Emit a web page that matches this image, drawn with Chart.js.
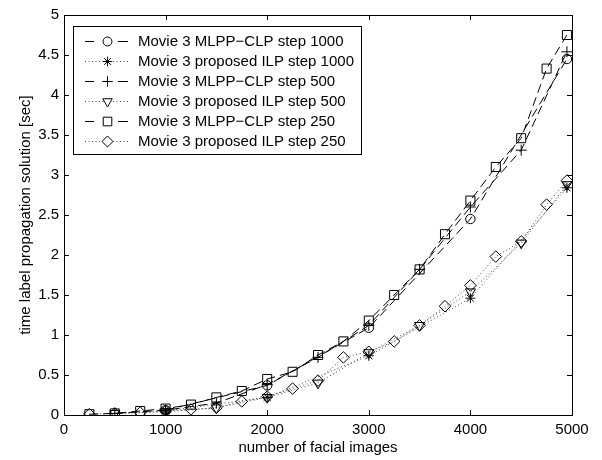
<!DOCTYPE html>
<html>
<head>
<meta charset="utf-8">
<script src="https://cdn.jsdelivr.net/npm/chart.js@4/dist/chart.umd.min.js"></script>
<style>
  body { margin: 0; background: #fff; }
  canvas { display: block; }
</style>
</head>
<body>
<canvas id="chart" width="602" height="460"></canvas>
<script>
// x positions (number of facial images) for each step size
const xStep1000 = [1000, 2000, 3000, 4000, 4950];
const xStep500 = [500, 1000, 1500, 2000, 2500, 3000, 3500, 4000, 4500, 4950];
const xStep250 = [250, 500, 750, 1000, 1250, 1500, 1750, 2000, 2250, 2500,
                  2750, 3000, 3250, 3500, 3750, 4000, 4250, 4500, 4750, 4950];

// time in seconds
const mlppStep1000 = [0.06, 0.37, 1.09, 2.45, 4.45];
const ilpStep1000 = [0.05, 0.22, 0.74, 1.46, 2.84];
const mlppStep500 = [0.02, 0.06, 0.15, 0.38, 0.72, 1.12, 1.82, 2.60, 3.31, 4.54];
const ilpStep500 = [0.02, 0.04, 0.09, 0.22, 0.40, 0.78, 1.12, 1.54, 2.15, 2.88];
const mlppStep250 = [0.01, 0.02, 0.05, 0.08, 0.13, 0.22, 0.30, 0.45, 0.54, 0.75,
                     0.92, 1.18, 1.50, 1.82, 2.26, 2.68, 3.10, 3.46, 4.33, 4.75];
const ilpStep250 = [0.01, 0.02, 0.03, 0.05, 0.07, 0.09, 0.17, 0.23, 0.33, 0.43,
                    0.72, 0.79, 0.92, 1.12, 1.36, 1.62, 1.98, 2.17, 2.63, 2.93];

const seriesLabels = [
    "Movie 3 MLPP\u2212CLP step 1000",
    "Movie 3 proposed ILP step 1000",
    "Movie 3 MLPP\u2212CLP step 500",
    "Movie 3 proposed ILP step 500",
    "Movie 3 MLPP\u2212CLP step 250",
    "Movie 3 proposed ILP step 250"
];

const xLabel = "number of facial images";
const yLabel = "time label propagation solution [sec]";

const FONT = "'Liberation Sans', Arial, Helvetica, sans-serif";
const DASHED = [9, 5];
const DOTTED = [1, 2.5];

function pairs(xs, ys) {
    return xs.map((x, i) => ({ x: x, y: ys[i] }));
}

function series(label, xs, ys, dash, style, radius, rotation) {
    const dotted = dash === DOTTED;
    return {
        label: label,
        data: pairs(xs, ys),
        borderColor: dotted ? "rgba(0,0,0,0.7)" : "#000",
        borderWidth: 1,
        borderDash: dash,
        pointStyle: style,
        pointRadius: radius,
        pointRotation: rotation || 0,
        pointBorderColor: "#000",
        pointBackgroundColor: "rgba(0,0,0,0)",
        pointBorderWidth: 1,
        tension: 0,
        fill: false
    };
}

const datasets = [
    series(seriesLabels[0], xStep1000, mlppStep1000, DASHED, "circle", 4.7),
    series(seriesLabels[1], xStep1000, ilpStep1000, DOTTED, "star", 5),
    series(seriesLabels[2], xStep500, mlppStep500, DASHED, "cross", 5.5),
    series(seriesLabels[3], xStep500, ilpStep500, DOTTED, "triangle", 5.8, 180),
    series(seriesLabels[4], xStep250, mlppStep250, DASHED, "rect", 6.4),
    series(seriesLabels[5], xStep250, ilpStep250, DOTTED, "rectRot", 5.8)
];

// box round the axes plus matlab style inward ticks on all four sides
const framePlugin = {
    id: "frame",
    afterDatasetsDraw(chart) {
        const ctx = chart.ctx;
        const a = chart.chartArea;
        const xs = chart.scales.x;
        const ys = chart.scales.y;
        const len = 5;
        ctx.save();
        ctx.strokeStyle = "#000";
        ctx.lineWidth = 1;
        ctx.setLineDash([]);
        ctx.beginPath();
        xs.ticks.forEach(t => {
            const px = Math.round(xs.getPixelForValue(t.value)) + 0.5;
            ctx.moveTo(px, a.bottom); ctx.lineTo(px, a.bottom - len);
            ctx.moveTo(px, a.top); ctx.lineTo(px, a.top + len);
        });
        ys.ticks.forEach(t => {
            const py = Math.round(ys.getPixelForValue(t.value)) + 0.5;
            ctx.moveTo(a.left, py); ctx.lineTo(a.left + len, py);
            ctx.moveTo(a.right, py); ctx.lineTo(a.right - len, py);
        });
        ctx.stroke();
        ctx.strokeRect(Math.round(a.left) + 0.5, Math.round(a.top) + 0.5,
                       Math.round(a.right - a.left), Math.round(a.bottom - a.top));
        ctx.restore();
    }
};

// legend drawn by hand so each entry gets its line sample with marker
const legendPlugin = {
    id: "boxLegend",
    afterDraw(chart) {
        const ctx = chart.ctx;
        const left = 73.5, top = 26.5, width = 288, rowH = 20;
        const height = rowH * seriesLabels.length + 8;
        ctx.save();
        ctx.fillStyle = "#fff";
        ctx.fillRect(left, top, width, height);
        ctx.strokeStyle = "#000";
        ctx.lineWidth = 1;
        ctx.strokeRect(left, top, width, height);

        ctx.font = "15px " + FONT;
        ctx.textBaseline = "middle";
        ctx.textAlign = "left";
        chart.data.datasets.forEach((ds, i) => {
            const y = Math.round(top + 14 + i * rowH) + 0.5;
            ctx.save();
            ctx.strokeStyle = ds.borderColor;
            ctx.lineWidth = 1;
            ctx.beginPath();
            if (ds.borderDash === DASHED) {
                [[85, 94], [103, 112], [118, 128]].forEach(seg => {
                    ctx.moveTo(seg[0], y);
                    ctx.lineTo(seg[1], y);
                });
            } else {
                ctx.setLineDash(DOTTED);
                ctx.moveTo(85, y);
                ctx.lineTo(128, y);
            }
            ctx.stroke();
            ctx.restore();

            ctx.save();
            ctx.setLineDash([]);
            ctx.strokeStyle = "#000";
            ctx.fillStyle = "#fff";
            ctx.lineWidth = 1;
            Chart.helpers.drawPoint(ctx, {
                pointStyle: ds.pointStyle,
                radius: ds.pointRadius * 0.95,
                rotation: ds.pointRotation,
                borderWidth: 1
            }, 107.5, y);
            ctx.restore();

            ctx.fillStyle = "#000";
            ctx.fillText(ds.label, 138, y);
        });
        ctx.restore();
    }
};

new Chart(document.getElementById("chart"), {
    type: "line",
    data: { datasets: datasets },
    plugins: [framePlugin, legendPlugin],
    options: {
        responsive: false,
        animation: false,
        devicePixelRatio: 1,
        layout: { padding: { left: 0, top: 15, right: 30, bottom: 0 } },
        plugins: {
            legend: { display: false },
            tooltip: { enabled: false }
        },
        scales: {
            x: {
                type: "linear",
                min: 0,
                max: 5000,
                grid: { display: false, drawTicks: false },
                border: { display: false },
                ticks: {
                    stepSize: 1000,
                    color: "#000",
                    padding: 6,
                    maxRotation: 0,
                    font: { family: FONT, size: 15 },
                    callback: v => String(v)
                },
                title: {
                    display: true,
                    text: xLabel,
                    color: "#000",
                    font: { family: FONT, size: 15 },
                    padding: { top: 0, bottom: 3 }
                },
                afterFit: s => { s.height = 45; }
            },
            y: {
                min: 0,
                max: 5,
                grid: { display: false, drawTicks: false },
                border: { display: false },
                ticks: {
                    stepSize: 0.5,
                    color: "#000",
                    padding: 5,
                    font: { family: FONT, size: 15 },
                    callback: v => String(Math.round(v * 10) / 10)
                },
                title: {
                    display: true,
                    text: yLabel,
                    color: "#000",
                    font: { family: FONT, size: 15 },
                    padding: { top: 17, bottom: 0 }
                },
                afterFit: s => { s.width = 64; }
            }
        }
    }
});
</script>
</body>
</html>
